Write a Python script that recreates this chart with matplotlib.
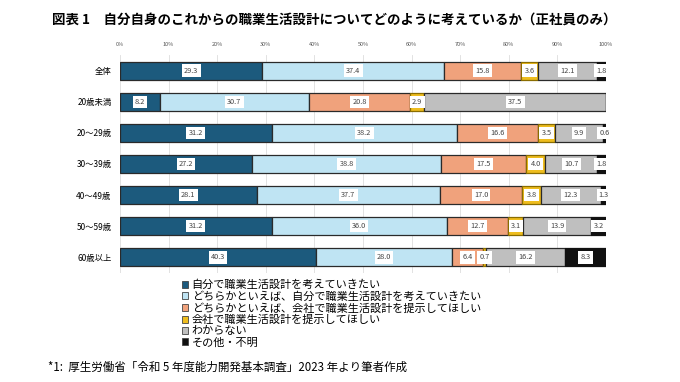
import matplotlib.pyplot as plt
from matplotlib.patches import Patch
import numpy as np

plt.rcParams['font.family'] = ['Noto Sans CJK JP', 'DejaVu Sans']

# data
groups = ['全体', '20歳未満', '20～29歳', '30～39歳', '40～49歳', '50～59歳', '60歳以上']
answers = ['自分で職業生活設計を考えていきたい',
           'どちらかといえば、自分で職業生活設計を考えていきたい',
           'どちらかといえば、会社で職業生活設計を提示してほしい',
           '会社で職業生活設計を提示してほしい',
           'わからない',
           'その他・不明']
self_plan = [29.3, 8.2, 31.2, 27.2, 28.1, 31.2, 40.3]
rather_self = [37.4, 30.7, 38.2, 38.8, 37.7, 36.0, 28.0]
rather_company = [15.8, 20.8, 16.6, 17.5, 17.0, 12.7, 6.4]
company = [3.6, 2.9, 3.5, 4.0, 3.8, 3.1, 0.7]
unknown = [12.1, 37.5, 9.9, 10.7, 12.3, 13.9, 16.2]
other = [1.8, 0.0, 0.6, 1.8, 1.3, 3.2, 8.3]

series = [self_plan, rather_self, rather_company, company, unknown, other]
colors = ['#1c5a7d', '#bfe4f3', '#f0a27c', '#eebd1e', '#bfbfbf', '#111111']
edges = ['#2a2a2a', '#2a2a2a', '#2a2a2a', '#8a6d00', '#2a2a2a', '#111111']

fig = plt.figure(figsize=(6.8, 3.82), dpi=100)
fig.patch.set_facecolor('white')
ax = fig.add_axes([120 / 680, 1 - 273 / 382, 486 / 680, 218 / 382])

y = np.arange(len(groups))
left = np.zeros(len(groups))
for vals, col, ec in zip(series, colors, edges):
    vals = np.array(vals)
    ax.barh(y, vals, left=left, height=0.58, color=col, edgecolor=ec,
            linewidth=0.9, zorder=3)
    for yi, (l, v) in enumerate(zip(left, vals)):
        if v <= 0:
            continue
        ax.text(l + v / 2, yi, f'{v:.1f}', ha='center', va='center',
                fontsize=5.3, color='#444444', zorder=4,
                bbox=dict(boxstyle='square,pad=0.3', facecolor='white',
                          edgecolor='none'))
    left += vals

ax.set_xlim(0, 100)
ax.set_ylim(len(groups) - 0.5, -0.5)
ax.set_xticks(np.arange(0, 101, 10))
ax.set_xticklabels([f'{t}%' for t in range(0, 101, 10)])
ax.xaxis.tick_top()
ax.tick_params(axis='x', length=0, labelsize=4, colors='#555555', pad=6)
ax.set_yticks(y)
ax.set_yticklabels(groups)
ax.tick_params(axis='y', length=0, labelsize=6, pad=6)
ax.grid(axis='x', color='#dddddd', linewidth=0.6, zorder=0)
for s in ax.spines.values():
    s.set_visible(False)

fig.text(52 / 680, 1 - 20 / 382,
         '図表 1　自分自身のこれからの職業生活設計についてどのように考えているか（正社員のみ）',
         fontsize=9.7, fontweight='bold', va='center', ha='left')

handles = [Patch(facecolor=c, edgecolor='#444444', linewidth=0.6) for c in colors]
fig.legend(handles, answers, loc='upper left',
           bbox_to_anchor=(176 / 680, 1 - 274 / 382), frameon=False,
           fontsize=8, handlelength=0.6, handleheight=0.6, handletextpad=0.3,
           labelspacing=0.1, borderpad=0)

fig.text(48 / 680, 1 - 367 / 382,
         '*1:  厚生労働省「令和 5 年度能力開発基本調査」2023 年より筆者作成',
         fontsize=8.3, va='center', ha='left')

fig.savefig('out.png', dpi=100, facecolor='white')
